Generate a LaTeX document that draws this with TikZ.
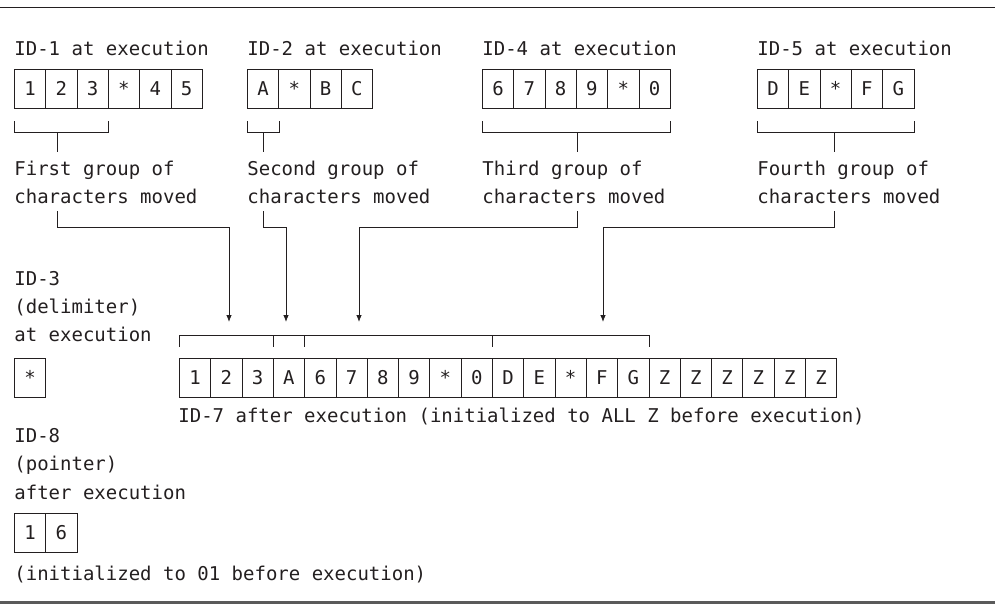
\documentclass[tikz,border=0pt]{standalone}
\usepackage{fontspec}
\setmainfont{DejaVu Sans Mono}
\usetikzlibrary{arrows.meta}
\definecolor{ink}{RGB}{35,31,32}
\definecolor{rule}{RGB}{90,90,90}
\newcommand\astr{\raisebox{-0.35ex}{*}}
\newcommand\cellrow[4]{\foreach \ch [count=\i] in {#4}{\node[cellbox] (#1\i) at ({#2+(\i-1)*31.3},#3) {\ch};}}
\begin{document}
\begin{tikzpicture}[x=1pt,y=-1pt,line width=0.8pt,draw=ink,text=ink,
  cellbox/.style={draw=ink,minimum width=31.3pt,minimum height=39pt,inner sep=0pt,anchor=north west,font=\fontsize{19}{23}\selectfont},
  lbl/.style={anchor=base west,inner sep=0pt,font=\fontsize{19}{23}\selectfont},
  conn/.style={draw=ink,-{Latex[length=7pt,width=5.5pt]}}]
\useasboundingbox (0,0) rectangle (995,614);
% rules
\draw[line width=1pt] (0,7) -- (995,7);
\draw[rule,line width=3pt] (0,602) -- (995,602);
% titles
\node[lbl] (t1) at (14,55) {ID-1 at execution};
\node[lbl] (t2) at (247,55) {ID-2 at execution};
\node[lbl] (t4) at (482,55) {ID-4 at execution};
\node[lbl] (t5) at (757,55) {ID-5 at execution};
% source cells
\cellrow{a}{14}{69}{1,2,3,\astr,4,5}
\cellrow{b}{247}{69}{A,\astr,B,C}
\cellrow{d}{482}{69}{6,7,8,9,\astr,0}
\cellrow{e}{757}{69}{D,E,\astr,F,G}
% brackets under sources
\coordinate (ya) at (0,121);
\coordinate (yb) at (0,132);
\draw (a1.south west |- ya) -- (a1.south west |- yb) -- (a3.south east |- yb) -- (a3.south east |- ya);
\draw (b1.south west |- ya) -- (b1.south west |- yb) -- (b1.south east |- yb) -- (b1.south east |- ya);
\draw (d1.south west |- ya) -- (d1.south west |- yb) -- (d6.south east |- yb) -- (d6.south east |- ya);
\draw (e1.south west |- ya) -- (e1.south west |- yb) -- (e5.south east |- yb) -- (e5.south east |- ya);
\draw (57,132) -- (57,152);
\draw (263,132) -- (263,152);
\draw (577,132) -- (577,152);
\draw (834,132) -- (834,152);
% group labels
\node[lbl] (g1a) at (14,175) {First group of};
\node[lbl] (g1b) at (14,203) {characters moved};
\node[lbl] (g2a) at (247,175) {Second group of};
\node[lbl] (g2b) at (247,203) {characters moved};
\node[lbl] (g3a) at (482,175) {Third group of};
\node[lbl] (g3b) at (482,203) {characters moved};
\node[lbl] (g4a) at (757,175) {Fourth group of};
\node[lbl] (g4b) at (757,203) {characters moved};
% ID-3
\node[lbl] (i3a) at (14,285) {ID-3};
\node[lbl] (i3b) at (14,313) {(delimiter)};
\node[lbl] (i3c) at (14,341) {at execution};
\cellrow{c}{14}{358}{\astr}
% ID-7
\cellrow{g}{179}{358}{1,2,3,A,6,7,8,9,\astr,0,D,E,\astr,F,G,Z,Z,Z,Z,Z,Z}
\node[lbl] (i7) at (178,422) {ID-7 after execution (initialized to ALL Z before execution)};
% brackets above ID-7
\coordinate (yc) at (0,335);
\coordinate (yd) at (0,347);
\draw (g1.north west |- yd) -- (g1.north west |- yc) -- (g15.north east |- yc) -- (g15.north east |- yd);
\draw (g4.north west |- yc) -- (g4.north west |- yd);
\draw (g5.north west |- yc) -- (g5.north west |- yd);
\draw (g11.north west |- yc) -- (g11.north west |- yd);
% connectors
\coordinate (s1) at (57,211);
\coordinate (s2) at (263,211);
\coordinate (s3) at (577,211);
\coordinate (s4) at (834,211);
\coordinate (e1) at (229,322);
\coordinate (e2) at (286,322);
\coordinate (e3) at (359,322);
\coordinate (e4) at (603,322);
\draw[conn] (s1) -- ++(0,16) -| (e1);
\draw[conn] (s2) -- ++(0,16) -| (e2);
\draw[conn] (s3) -- ++(0,16) -| (e3);
\draw[conn] (s4) -- ++(0,16) -| (e4);
% ID-8
\node[lbl] (i8a) at (14,442) {ID-8};
\node[lbl] (i8b) at (14,470) {(pointer)};
\node[lbl] (i8c) at (14,499) {after execution};
\cellrow{h}{14}{513}{1,6}
\node[lbl] (i8d) at (14,580) {(initialized to 01 before execution)};
\end{tikzpicture}
\end{document}
